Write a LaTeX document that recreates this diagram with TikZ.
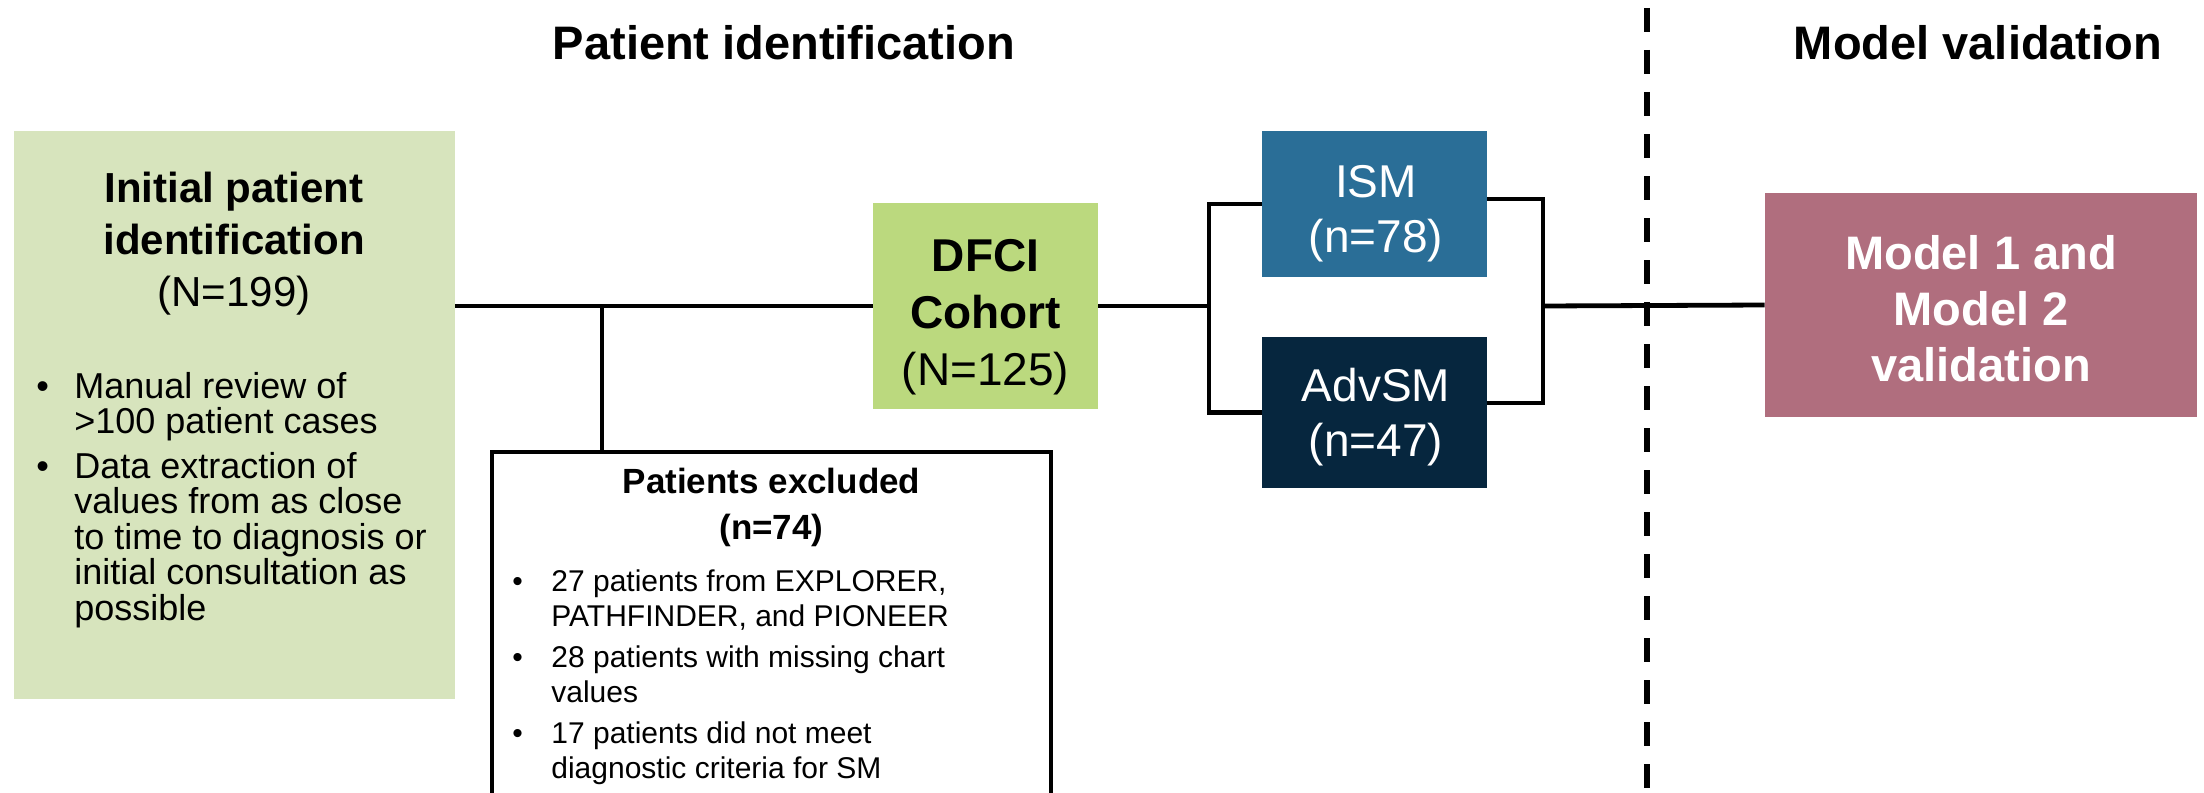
\documentclass[tikz,border=0pt]{standalone}
\usepackage{fontspec}
\setmainfont{Liberation Sans}
\definecolor{initgreen}{HTML}{D7E4BD}
\definecolor{dfcigreen}{HTML}{BBD97E}
\definecolor{ismblue}{HTML}{2A6E97}
\definecolor{advnavy}{HTML}{06263E}
\definecolor{modelmauve}{HTML}{B06E7E}
\begin{document}
\begin{tikzpicture}[x=0.5pt,y=-0.5pt,
  conn/.style={line width=2.4pt, line join=miter},
  box/.style={rectangle, inner sep=0pt, align=center},
  ttl/.style={font=\fontsize{23.5pt}{28pt}\selectfont\bfseries, inner sep=0pt, anchor=base},
  fillbox/.style={box, draw=none},
  bul/.style={anchor=north west, align=left, inner sep=0pt}]
\useasboundingbox (0,0) rectangle (2204,792);

% titles
\node[ttl] (t1) at (784,60) {Patient identification};
\node[ttl] (t2) at (1978,60) {Model validation};

% dashed divider
\coordinate (dtop) at (1647,8);
\coordinate (dbot) at (1647,800);
\draw[line width=3pt, dash pattern=on 12pt off 9pt] (dtop) -- (dbot);

% initial box
\node[fillbox, fill=initgreen, minimum width=220.5pt, minimum height=284pt] (init) at (234.5,415) {};
\node[box, font=\fontsize{21pt}{26pt}\selectfont] (inittxt) at (234,244)
  {\textbf{Initial patient}\\\textbf{identification}\\(N=199)};
\node[bul, font=\fontsize{18pt}{17.75pt}\selectfont] (initlist) at (36,372)
  {\makebox[19pt][l]{\textbullet}Manual review of\\
   \hspace*{19pt}>100 patient cases\\[4.5pt]
   \makebox[19pt][l]{\textbullet}Data extraction of\\
   \hspace*{19pt}values from as close\\
   \hspace*{19pt}to time to diagnosis or\\
   \hspace*{19pt}initial consultation as\\
   \hspace*{19pt}possible};

% DFCI cohort
\node[fillbox, fill=dfcigreen, minimum width=112.5pt, minimum height=103pt] (dfci) at (985.5,306) {};
\node[box, font=\fontsize{23pt}{28.5pt}\selectfont] (dfcitxt) at (985.5,317)
  {\textbf{DFCI}\\\textbf{Cohort}\\(N=125)};

% excluded box
\node[box, draw, line width=2.4pt, minimum width=279.5pt, minimum height=190pt] (excl) at (771.5,642) {};
\node[box, font=\fontsize{17.5pt}{23pt}\selectfont\bfseries] (excltxt) at (771.5,507)
  {Patients excluded\\(n=74)};
\node[bul, font=\fontsize{15pt}{17.5pt}\selectfont] (excllist) at (512,569)
  {\makebox[19.5pt][l]{\textbullet}27 patients from EXPLORER,\\
   \hspace*{19.5pt}PATHFINDER, and PIONEER\\[3pt]
   \makebox[19.5pt][l]{\textbullet}28 patients with missing chart\\
   \hspace*{19.5pt}values\\[3pt]
   \makebox[19.5pt][l]{\textbullet}17 patients did not meet\\
   \hspace*{19.5pt}diagnostic criteria for SM};

% ISM / AdvSM
\node[fillbox, fill=ismblue, minimum width=112.5pt, minimum height=73pt] (ism) at (1374.5,204) {};
\node[box, text=white, font=\fontsize{23pt}{27.5pt}\selectfont] (ismtxt) at (1376,214) {ISM\\(n=78)};
\node[fillbox, fill=advnavy, minimum width=112.5pt, minimum height=75.5pt] (adv) at (1374.5,412.5) {};
\node[box, text=white, font=\fontsize{23pt}{27.5pt}\selectfont] (advtxt) at (1376,417) {AdvSM\\(n=47)};

% model box
\node[fillbox, fill=modelmauve, minimum width=216pt, minimum height=112pt] (model) at (1981,305) {};
\node[box, text=white, font=\fontsize{23.5pt}{28pt}\selectfont\bfseries] (modeltxt) at (1981,309)
  {Model 1 and\\Model 2\\validation};

% connectors
\coordinate (junc) at (602,306);
\coordinate (lbr) at (1209,306);
\coordinate (rbr) at (1543,306);
\draw[conn] (init.east |- dfci.west) -- (dfci.west);
\draw[conn] (junc) -- (junc |- excl.north);
\draw[conn] (dfci.east) -- (lbr);
\draw[conn] (ism.west) -| (lbr) |- (adv.west);
\draw[conn] ([yshift=2.5pt]ism.east) -| (rbr) |- ([yshift=4.75pt]adv.east);
\draw[conn] (rbr) -- (model.west);
\end{tikzpicture}
\end{document}
